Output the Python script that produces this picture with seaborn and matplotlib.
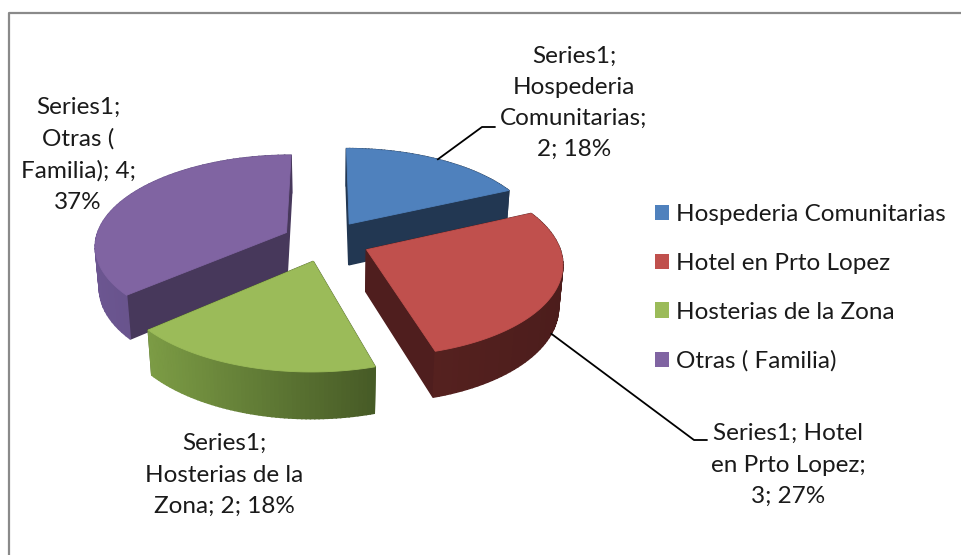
import numpy as np
import matplotlib
matplotlib.use("Agg")
import matplotlib.pyplot as plt
from matplotlib.patches import Polygon, Patch
import matplotlib.colors as mcolors
import seaborn as sns

# ─── data ─────────────────────────────────────────────────────────────────────
SERIES = "Series1"
categories = ["Hospederia Comunitarias", "Hotel en Prto Lopez",
              "Hosterias de la Zona", "Otras ( Familia)"]
values = [2, 3, 2, 4]
percents = [18, 27, 18, 37]

# ─── style ────────────────────────────────────────────────────────────────────
TOP_COLORS = ["#4F81BD", "#C0504D", "#9BBB59", "#8064A2"]
CUT_COLORS = ["#223752", "#4F1E1E", "#4A5D29", "#47385B"]
WALL_LIGHT = ["#2E4868", "#55211F", "#7C9C45", "#6C5691"]
WALL_DARK  = ["#22364F", "#4C1D1C", "#465A26", "#574676"]
FRAME = "#8A8A8A"
TEXT = "#1A1A1A"

W, H = 962, 555
CX, CY = 326.0, 241.0        # screen position of the pie centre (px)
FOCAL, DIST = 1262.0, 6.6    # perspective camera
TILT = np.radians(28)
DEPTH = 0.25                 # pie thickness (radius = 1)
EXPLODE = 0.23
FONT = ["Lato", "DejaVu Sans"]
FS = 17.5


def project(x, y, z):
    d = DIST + y * np.cos(TILT) - z * np.sin(TILT)
    X = CX + FOCAL * x / d
    Y = CY - FOCAL * (y * np.sin(TILT) + z * np.cos(TILT)) / d
    return X, Y, d


def mix(c1, c2, t):
    a = np.array(mcolors.to_rgb(c1))
    b = np.array(mcolors.to_rgb(c2))
    return tuple(a + (b - a) * t)


def slice_faces(i, t0, t1):
    mid = np.radians((t0 + t1) / 2)
    ox, oy = EXPLODE * np.cos(mid), EXPLODE * np.sin(mid)
    arc = np.radians(np.linspace(t0, t1, 60))
    rx, ry = ox + np.cos(arc), oy + np.sin(arc)

    tx, ty, _ = project(rx, ry, 0.0)
    bx, by, _ = project(rx, ry, -DEPTH)
    ax_, ay_, ad = project(ox, oy, 0.0)
    abx, aby, abd = project(ox, oy, -DEPTH)

    faces = []
    # radial cut faces
    for k in (0, -1):
        _, _, d1 = project(rx[k], ry[k], -DEPTH / 2)
        poly = [(ax_, ay_), (tx[k], ty[k]), (bx[k], by[k]), (abx, aby)]
        faces.append(((d1 + ad) / 2, poly, CUT_COLORS[i]))
    # outer wall strips
    xmin, xmax = tx.min(), tx.max()
    for j in range(len(arc) - 1):
        _, _, dj = project((rx[j] + rx[j + 1]) / 2, (ry[j] + ry[j + 1]) / 2, -DEPTH / 2)
        poly = [(tx[j], ty[j]), (tx[j + 1], ty[j + 1]), (bx[j + 1], by[j + 1]), (bx[j], by[j])]
        frac = ((tx[j] + tx[j + 1]) / 2 - xmin) / max(xmax - xmin, 1)
        faces.append((dj, poly, mix(WALL_LIGHT[i], WALL_DARK[i], frac)))
    faces.sort(key=lambda f: -f[0])
    top = [(ax_, ay_)] + list(zip(tx, ty))
    return faces, top, ad


def main():
    sns.set_theme(style="white")
    plt.rcParams["font.family"] = FONT

    fig = plt.figure(figsize=(W / 100, H / 100), dpi=100)
    fig.patch.set_facecolor("white")
    ax = fig.add_axes([0, 0, 1, 1])
    ax.set_xlim(0, W)
    ax.set_ylim(H, 0)
    ax.axis("off")

    # chart frame (right and bottom edges fall outside the crop)
    ax.plot([9, 9, W + 5], [H + 5, 13, 13], color=FRAME, lw=1.6, solid_capstyle="butt")

    total = float(sum(values))
    bounds = 90 - 360 * np.concatenate([[0], np.cumsum(values)]) / total

    slices = []
    for i in range(len(values)):
        faces, top, depth = slice_faces(i, bounds[i], bounds[i + 1])
        slices.append((depth, i, faces, top))
    slices.sort(key=lambda s: -s[0])       # far slices first

    for _, i, faces, top in slices:
        for _, poly, col in faces:
            ax.add_patch(Polygon(poly, closed=True, facecolor=col, edgecolor=col, lw=1.1))
        ax.add_patch(Polygon(top, closed=True, facecolor=TOP_COLORS[i],
                             edgecolor=TOP_COLORS[i], lw=0.6))

    # data labels
    lab = [f"{SERIES};\nHospederia\nComunitarias;\n{values[0]}; {percents[0]}%",
           f"{SERIES}; Hotel\nen Prto Lopez;\n{values[1]}; {percents[1]}%",
           f"{SERIES};\nHosterias de la\nZona; {values[2]}; {percents[2]}%",
           f"{SERIES};\nOtras (\nFamilia); {values[3]};\n{percents[3]}%"]
    label_pos = [(574, 103), (788, 465), (224, 475), (78, 155)]
    for txt, (x, y) in zip(lab, label_pos):
        ax.text(x, y, txt, ha="center", va="center", fontsize=FS, color=TEXT,
                linespacing=1.6)

    # leader lines, starting on the slice edges
    def rim_point(i, z):
        m = np.radians((bounds[i] + bounds[i + 1]) / 2)
        px = (1 + EXPLODE) * np.cos(m)
        py = (1 + EXPLODE) * np.sin(m)
        X, Y, _ = project(px, py, z)
        return X, Y

    x0, y0 = rim_point(0, 0.0)
    ax.plot([x0, 482, 495], [y0, 127, 127], color="black", lw=1.3)
    x1, y1 = rim_point(1, -DEPTH)
    ax.plot([x1, 694, 707], [y1, 440, 440], color="black", lw=1.3)

    # legend
    handles = [Patch(facecolor=c, edgecolor="none") for c in TOP_COLORS]
    ax.legend(handles, categories, loc="center left",
              bbox_to_anchor=(655 / W, 1 - 288 / H), frameon=False,
              fontsize=FS, handlelength=0.58, handleheight=0.58,
              handletextpad=0.3, labelspacing=1.14, borderpad=0,
              borderaxespad=0, labelcolor=TEXT)

    fig.savefig("out.png", dpi=100, facecolor="white")
    plt.close(fig)


if __name__ == "__main__":
    main()
